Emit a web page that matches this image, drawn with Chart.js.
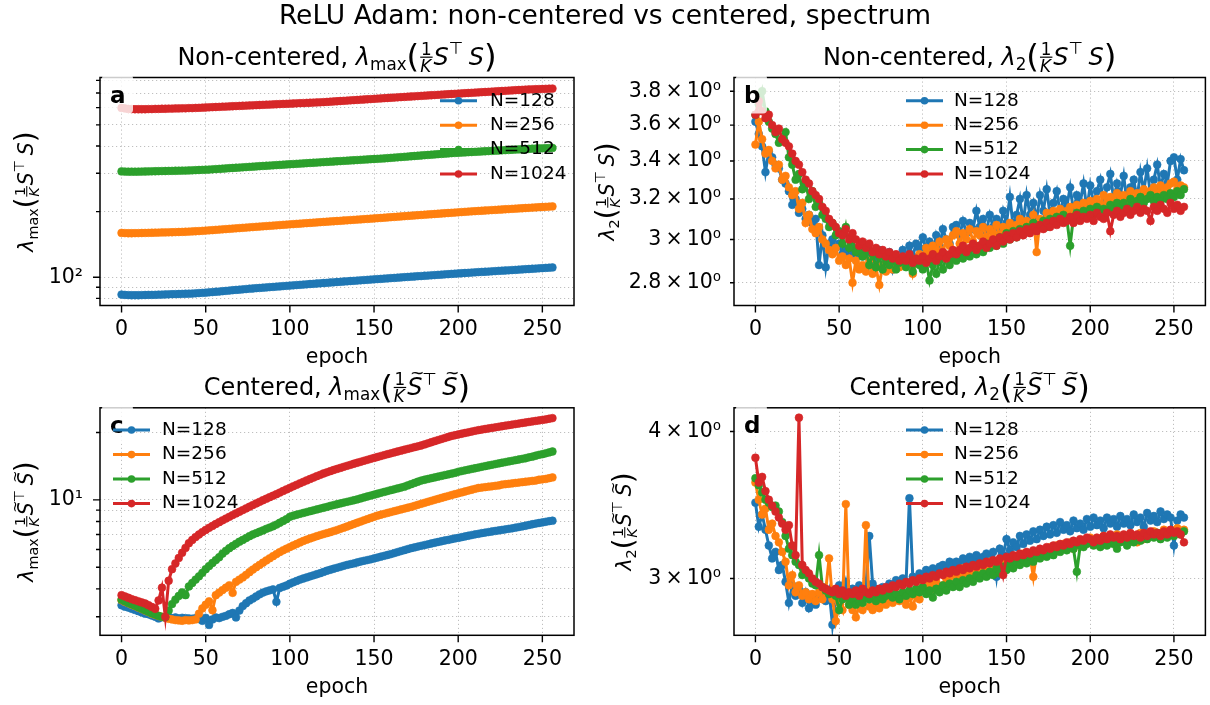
<!DOCTYPE html>
<html>
<head>
<meta charset="utf-8">
<script src="https://cdn.jsdelivr.net/npm/chart.js@4.4.0/dist/chart.umd.min.js"></script>
<style>
  html, body { margin: 0; padding: 0; background: #fff; }
  #wrap { position: relative; width: 1210px; height: 705px; overflow: hidden; }
  #wrap canvas { position: absolute; left: 0; top: 0; }
</style>
</head>
<body>
<div id="wrap">
  <canvas id="cA" width="1210" height="705"></canvas>
  <canvas id="cB" width="1210" height="705"></canvas>
  <canvas id="cC" width="1210" height="705"></canvas>
  <canvas id="cD" width="1210" height="705"></canvas>
</div>
<script>
// ---- data (every 2 epochs) ----
const epochs = [0,2,4,6,8,10,12,14,16,18,20,22,24,26,28,30,32,34,36,38,40,42,44,46,48,50,52,54,56,58,
  60,62,64,66,68,70,72,74,76,78,80,82,84,86,88,90,92,94,96,98,100,102,104,106,108,110,112,114,116,118,
  120,122,124,126,128,130,132,134,136,138,140,142,144,146,148,150,152,154,156,158,160,162,164,166,168,170,
  172,174,176,178,180,182,184,186,188,190,192,194,196,198,200,202,204,206,208,210,212,214,216,218,220,222,
  224,226,228,230,232,234,236,238,240,242,244,246,248,250,252,254,256];
const xTicks = [0, 50, 100, 150, 200, 250];
const seriesNames = ['N=128', 'N=256', 'N=512', 'N=1024'];
const colors = ['#1f77b4', '#ff7f0e', '#2ca02c', '#d62728'];

// panel a: non-centered lambda_max
const aN128 = [83.3,83.0,82.8,82.7,82.7,82.7,82.8,82.9,83.0,83.0,
  83.1,83.2,83.3,83.4,83.5,83.6,83.7,83.8,83.9,84.0,
  84.1,84.2,84.4,84.6,84.8,85.0,85.3,85.5,85.8,86.0,
  86.3,86.6,86.9,87.2,87.5,87.7,88.0,88.3,88.6,88.8,
  89.1,89.3,89.6,89.8,90.1,90.3,90.6,90.8,91.1,91.3,
  91.6,91.8,92.1,92.3,92.6,92.8,93.1,93.3,93.6,93.8,
  94.1,94.3,94.6,94.8,95.1,95.3,95.6,95.8,96.1,96.3,
  96.6,96.8,97.1,97.3,97.6,97.8,98.1,98.3,98.6,98.8,
  99.1,99.3,99.6,99.8,100.1,100.3,100.6,100.8,101.1,101.3,
  101.6,101.8,102.1,102.3,102.6,102.8,103.1,103.3,103.6,103.8,
  104.1,104.3,104.6,104.8,105.1,105.3,105.6,105.8,106.0,106.2,
  106.5,106.7,107.0,107.2,107.4,107.6,107.9,108.1,108.4,108.6,
  108.9,109.1,109.4,109.6,109.9,110.1,110.4,110.6,110.9];
const aN256 = [159.8,159.4,159.2,159.2,159.3,159.4,159.6,159.7,159.9,160.0,
  160.2,160.3,160.5,160.6,160.8,160.9,161.1,161.3,161.5,161.7,
  162.0,162.3,162.6,162.9,163.3,163.7,164.1,164.5,165.0,165.4,
  165.9,166.3,166.8,167.2,167.7,168.1,168.6,169.0,169.5,169.9,
  170.4,170.8,171.3,171.7,172.2,172.6,173.1,173.5,174.0,174.4,
  174.9,175.3,175.8,176.2,176.7,177.1,177.6,178.0,178.5,178.9,
  179.4,179.8,180.3,180.7,181.2,181.6,182.1,182.5,183.0,183.4,
  183.9,184.3,184.8,185.2,185.7,186.1,186.6,187.1,187.6,188.1,
  188.6,189.1,189.6,190.1,190.6,191.1,191.6,192.1,192.6,193.1,
  193.6,194.1,194.6,195.1,195.6,196.1,196.6,197.1,197.6,198.1,
  198.6,199.1,199.6,200.1,200.6,201.0,201.5,201.9,202.4,202.8,
  203.3,203.7,204.2,204.6,205.1,205.5,206.0,206.4,206.9,207.3,
  207.8,208.2,208.7,209.1,209.6,210.0,210.5,210.9,211.4];
const aN512 = [306,305.5,305,305,305,305.2,305.5,305.7,306,306.2,
  306.5,306.7,307,307.2,307.5,307.7,308,308.2,308.5,308.7,
  309,309.5,310,310.5,311,311.5,312,312.7,313.5,314.2,
  315,315.7,316.5,317.2,318,318.7,319.5,320.2,321,321.7,
  322.5,323.2,324,324.7,325.5,326.2,327,327.7,328.5,329.2,
  330,330.7,331.5,332.2,333,333.7,334.5,335.2,336,336.7,
  337.5,338.2,339,339.7,340.5,341.2,342,342.7,343.5,344.2,
  345,345.7,346.5,347.2,348,348.7,349.5,350.2,351,352,
  353,354,355,356,357,358,359,360,361,362,
  363,364,365,366,367,368,369,370,371,371.7,
  372.5,373.2,374,374.7,375.5,376.2,377,377.7,378.5,379.2,
  380,380.7,381.5,382.2,383,383.7,384.5,385.2,386,386.7,
  387.5,388.2,389,389.5,390,390.5,391,391.5,392];
const aN1024 = [598,595,592,591,590,590,590,590,591,591,
  592,592,593,593,594,594,595,595,596,596,
  597,597,598,599,600,601,602,603,604,605,
  606,607,608,609,610,611,612,613,614,615,
  616,617,618,619,620,621,622,623,624,625,
  626,627,628,629,630,631,632,633,634,635,
  636,637.5,639,640.5,642,643.5,645,646.5,648,649.5,
  651,652.5,654,655.5,657,658.5,660,661.5,663,664.5,
  666,667.5,669,670.5,672,673.5,675,676.5,678,679.5,
  681,682.5,684,685.5,687,688.5,690,691.5,693,694.5,
  696,697.5,699,700.5,702,703.5,705,706.5,708,709.5,
  711,712.5,714,715.5,717,718.5,720,721.5,723,724.5,
  726,727,728,729,730,731,732,733,734];
const aYTicks = [80, 90, 100, 200, 300, 400, 500, 600, 700, 800];
const aYTickLabels = ['', '', '10\u00b2', '', '', '', '', '', '', ''];

// panel b: non-centered lambda_2
const bN128 = [3.62,3.55,3.48,3.34,3.45,3.42,3.38,3.36,3.30,3.28,
  3.24,3.17,3.20,3.13,3.15,3.10,3.12,3.08,3.10,2.88,
  3.02,2.87,2.98,3.00,2.96,2.98,2.93,2.95,2.92,2.96,
  2.93,2.95,2.92,2.96,2.94,2.93,2.90,2.95,2.93,2.91,
  2.94,2.86,2.92,2.88,2.95,2.90,2.97,2.92,2.98,2.96,
  3.01,2.95,2.99,2.93,3.02,2.97,3.05,3.00,2.98,3.06,
  3.07,3.02,3.09,3.03,3.08,3.05,3.14,3.06,3.10,3.04,
  3.12,3.06,3.10,3.05,3.14,3.08,3.21,3.06,3.12,3.20,
  3.08,3.22,3.12,3.18,3.10,3.22,3.14,3.25,3.12,3.18,
  3.24,3.13,3.20,3.16,3.26,3.14,3.22,3.18,3.28,3.15,
  3.27,3.18,3.24,3.30,3.17,3.26,3.33,3.20,3.28,3.22,
  3.32,3.18,3.26,3.30,3.20,3.34,3.24,3.36,3.22,3.30,
  3.38,3.26,3.33,3.28,3.40,3.42,3.30,3.41,3.35];
const bN256 = [3.49,3.62,3.52,3.44,3.46,3.40,3.36,3.38,3.30,3.32,
  3.26,3.22,3.24,3.15,3.18,3.08,3.12,3.05,3.03,3.06,
  3.00,2.98,2.95,2.93,2.96,2.90,2.92,2.88,2.91,2.80,
  2.90,2.86,2.88,2.85,2.90,2.84,2.87,2.79,2.88,2.85,
  2.89,2.86,2.90,2.87,2.91,2.88,2.92,2.84,2.90,2.93,
  2.92,2.96,2.93,2.97,2.95,2.99,2.94,3.00,2.97,3.02,
  3.04,2.98,3.03,3.00,3.05,2.99,3.04,3.02,3.06,3.01,
  3.05,3.03,3.07,3.02,3.06,3.04,3.08,3.05,3.07,3.10,
  3.06,3.09,3.07,3.12,2.94,3.10,3.08,3.13,3.10,3.14,
  3.11,3.15,3.12,3.14,3.16,3.12,3.17,3.14,3.18,3.15,
  3.19,3.16,3.20,3.17,3.22,3.18,3.21,3.19,3.23,3.20,
  3.22,3.19,3.24,3.20,3.23,3.21,3.25,3.22,3.24,3.26,
  3.23,3.27,3.24,3.26,3.28,3.29,3.25,3.27,3.26];
const bN512 = [3.66,3.72,3.80,3.68,3.62,3.58,3.55,3.50,3.52,3.56,
  3.42,3.38,3.30,3.33,3.25,3.28,3.20,3.24,3.16,3.18,
  3.12,3.10,3.06,3.08,3.02,3.04,2.98,3.06,2.96,3.00,
  2.94,2.97,2.92,2.95,2.88,2.93,2.87,2.92,2.86,2.90,
  2.88,2.91,2.86,2.89,2.90,2.87,2.92,2.85,2.90,2.88,
  2.86,2.90,2.81,2.88,2.84,2.90,2.86,2.92,2.88,2.91,
  2.90,2.93,2.91,2.94,2.92,2.96,2.93,2.97,2.94,2.98,
  2.96,2.99,2.97,3.01,2.98,3.03,3.00,3.04,3.01,3.05,
  3.03,3.06,3.04,3.08,3.05,3.07,3.09,3.06,3.10,3.08,
  3.11,3.09,3.12,3.10,2.97,3.11,3.13,3.10,3.14,3.12,
  3.15,3.12,3.16,3.13,3.15,3.14,3.17,3.15,3.18,3.16,
  3.18,3.15,3.20,3.17,3.19,3.21,3.18,3.20,3.22,3.19,
  3.21,3.19,3.22,3.20,3.23,3.21,3.24,3.22,3.25];
const bN1024 = [3.66,3.74,3.68,3.64,3.66,3.60,3.56,3.58,3.52,3.50,
  3.48,3.44,3.40,3.38,3.34,3.30,3.28,3.24,3.22,3.20,
  3.16,3.14,3.10,3.08,3.06,3.03,3.02,3.05,3.00,3.03,
  3.00,2.97,2.99,2.96,2.98,2.94,2.96,2.93,2.95,2.92,
  2.94,2.91,2.93,2.90,2.92,2.90,2.93,2.89,2.91,2.90,
  2.92,2.89,2.91,2.93,2.90,2.92,2.94,2.91,2.93,2.95,
  2.93,2.95,2.97,2.94,2.96,2.98,2.95,2.97,2.99,2.96,
  2.98,3.00,2.97,3.01,2.99,3.02,3.00,3.03,3.01,3.04,
  3.02,3.05,3.03,3.06,3.04,3.07,3.05,3.08,3.06,3.09,
  3.07,3.10,3.08,3.09,3.11,3.08,3.12,3.09,3.11,3.10,
  3.12,3.09,3.13,3.11,3.10,3.13,3.04,3.12,3.14,3.11,
  3.13,3.15,3.12,3.14,3.16,3.13,3.15,3.14,3.09,3.16,
  3.14,3.17,3.15,3.13,3.18,3.15,3.17,3.14,3.16];
const bYTicks = [2.8, 3.0, 3.2, 3.4, 3.6, 3.8];
const bYTickLabels = ['2.8\u2009\u00d7\u200910\u2070', '3\u2009\u00d7\u200910\u2070', '3.2\u2009\u00d7\u200910\u2070',
  '3.4\u2009\u00d7\u200910\u2070', '3.6\u2009\u00d7\u200910\u2070', '3.8\u2009\u00d7\u200910\u2070'];

// panel c: centered lambda_max
const cN128 = [3.38,3.33,3.30,3.26,3.22,3.18,3.14,3.10,3.08,3.04,
  3.00,2.95,2.99,2.97,3.00,2.96,2.98,2.95,2.97,2.96,
  2.95,2.94,2.96,2.93,2.88,2.97,2.76,2.92,2.98,2.96,
  3.00,3.03,3.08,3.12,2.98,3.20,3.35,3.45,3.55,3.62,
  3.70,3.78,3.85,3.90,3.94,3.98,3.50,4.04,4.09,4.14,
  4.22,4.28,4.34,4.40,4.45,4.50,4.55,4.60,4.65,4.70,
  4.76,4.82,4.87,4.92,4.97,5.02,5.07,5.12,5.16,5.20,
  5.25,5.30,5.34,5.38,5.42,5.47,5.52,5.57,5.62,5.67,
  5.72,5.78,5.84,5.90,5.96,6.02,6.08,6.13,6.18,6.23,
  6.28,6.33,6.38,6.43,6.48,6.53,6.58,6.62,6.67,6.72,
  6.76,6.81,6.86,6.91,6.96,7.01,7.05,7.10,7.14,7.18,
  7.22,7.26,7.30,7.34,7.38,7.42,7.46,7.51,7.56,7.61,
  7.66,7.72,7.78,7.83,7.88,7.93,7.98,8.03,8.07];
const cN256 = [3.56,3.50,3.45,3.40,3.35,3.30,3.25,3.20,3.15,3.10,
  3.06,3.03,3.00,2.97,2.94,2.92,2.90,2.89,2.88,2.90,
  2.89,2.90,2.92,3.10,3.27,3.40,3.52,3.21,3.75,3.85,
  3.95,4.05,4.15,3.84,4.30,4.40,4.50,4.62,4.75,4.88,
  5.00,5.12,5.24,5.36,5.48,5.60,5.72,5.84,5.95,6.05,
  6.15,6.25,6.35,6.45,6.55,6.64,6.72,6.80,6.88,6.96,
  7.03,7.10,7.17,7.25,7.33,7.42,7.51,7.60,7.70,7.80,
  7.90,8.00,8.10,8.20,8.30,8.40,8.50,8.58,8.66,8.74,
  8.82,8.90,8.98,9.06,9.14,9.22,9.30,9.40,9.50,9.60,
  9.70,9.80,9.90,10.0,10.1,10.2,10.3,10.4,10.5,10.6,
  10.7,10.8,10.9,11.0,11.1,11.2,11.3,11.35,11.4,11.45,
  11.5,11.55,11.6,11.7,11.75,11.8,11.85,11.9,11.95,12.0,
  12.05,12.1,12.15,12.2,12.3,12.35,12.4,12.5,12.6];
const cN512 = [3.58,3.52,3.46,3.41,3.36,3.31,3.26,3.21,3.16,3.11,
  3.07,3.03,3.00,2.99,3.20,3.42,3.58,3.72,3.86,3.75,
  4.10,4.25,4.40,4.55,4.72,4.90,5.06,5.22,5.38,5.54,
  5.75,5.92,6.08,6.22,6.36,6.50,6.62,6.75,6.88,7.00,
  7.10,7.20,7.30,7.42,7.52,7.62,7.75,7.90,8.05,8.20,
  8.40,8.50,8.58,8.66,8.74,8.82,8.90,8.98,9.06,9.14,
  9.22,9.30,9.40,9.48,9.56,9.64,9.72,9.80,9.88,9.96,
  10.05,10.15,10.25,10.35,10.45,10.55,10.65,10.75,10.85,10.95,
  11.05,11.15,11.25,11.35,11.45,11.6,11.75,11.9,12.05,12.2,
  12.3,12.4,12.5,12.6,12.7,12.8,12.9,13.0,13.1,13.2,
  13.35,13.45,13.55,13.65,13.75,13.85,13.95,14.05,14.15,14.25,
  14.35,14.45,14.55,14.65,14.75,14.85,14.95,15.05,15.15,15.25,
  15.35,15.5,15.6,15.75,15.9,16.0,16.15,16.3,16.45];
const cN1024 = [3.75,3.70,3.65,3.60,3.56,3.52,3.48,3.44,3.38,3.32,
  3.26,3.55,4.05,3.00,4.35,4.90,5.20,5.50,5.80,6.10,
  6.40,6.62,6.82,7.00,7.18,7.34,7.50,7.65,7.80,7.95,
  8.10,8.25,8.40,8.55,8.70,8.85,9.00,9.16,9.32,9.48,
  9.64,9.80,9.96,10.12,10.28,10.44,10.60,10.78,10.96,11.14,
  11.32,11.50,11.68,11.86,12.04,12.22,12.40,12.58,12.76,12.94,
  13.12,13.28,13.44,13.60,13.75,13.90,14.05,14.20,14.35,14.50,
  14.65,14.80,14.95,15.10,15.25,15.40,15.55,15.70,15.85,16.00,
  16.15,16.30,16.45,16.60,16.75,16.90,17.05,17.20,17.35,17.50,
  17.70,17.90,18.10,18.30,18.50,18.70,18.90,19.10,19.30,19.45,
  19.60,19.75,19.90,20.05,20.20,20.35,20.50,20.62,20.74,20.86,
  20.98,21.10,21.22,21.34,21.46,21.58,21.70,21.82,21.94,22.06,
  22.18,22.30,22.42,22.54,22.66,22.78,22.90,23.05,23.20];
const cYTicks = [3, 4, 5, 6, 7, 8, 9, 10, 20];
const cYTickLabels = ['', '', '', '', '', '', '', '10\u00b9', ''];

// panel d: centered lambda_2
const dN128 = [3.48,3.32,3.40,3.30,3.20,3.12,3.16,3.05,3.08,2.98,
  2.86,2.96,2.90,2.94,2.86,2.92,2.83,2.88,2.85,2.89,
  2.91,2.87,2.93,2.74,2.90,2.96,2.90,2.98,2.88,2.94,
  2.92,2.96,2.90,2.95,3.26,2.97,2.94,2.92,2.95,2.93,
  2.97,2.95,2.99,2.97,3.00,2.98,3.51,3.01,3.00,3.03,
  3.02,3.05,3.03,3.06,3.04,3.07,3.08,3.06,3.10,3.08,
  3.10,3.07,3.12,3.09,3.13,3.11,3.14,3.10,3.13,3.15,
  3.12,3.16,3.01,3.18,3.14,3.24,3.17,3.22,3.19,3.26,
  3.21,3.27,3.23,3.29,3.24,3.30,3.26,3.32,3.27,3.33,
  3.28,3.35,3.30,3.33,3.29,3.36,3.31,3.34,3.30,3.37,
  3.32,3.38,3.33,3.36,3.31,3.38,3.34,3.37,3.32,3.39,
  3.34,3.37,3.33,3.40,3.35,3.38,3.32,3.41,3.36,3.39,
  3.35,3.42,3.37,3.40,3.38,3.20,3.36,3.40,3.38];
const dN256 = [3.62,3.50,3.40,3.44,3.30,3.34,3.26,3.22,3.16,3.10,
  2.96,3.02,2.92,2.96,2.90,2.92,2.88,2.91,2.87,2.92,
  2.88,2.93,3.12,2.88,2.76,2.86,2.82,3.47,2.85,2.82,
  2.78,2.85,2.82,3.33,2.84,2.82,2.86,2.83,2.87,2.85,
  2.88,2.86,2.90,2.87,2.91,2.85,2.89,2.84,2.90,2.88,
  2.95,2.92,2.97,2.94,2.98,2.93,2.96,3.00,2.97,3.02,
  3.04,3.01,3.06,3.03,3.05,3.02,3.07,3.04,3.08,3.05,
  3.10,3.07,3.09,3.06,3.11,3.08,3.12,3.09,3.13,3.11,
  3.15,3.12,3.14,3.01,3.16,3.13,3.17,3.15,3.19,3.16,
  3.20,3.17,3.21,3.19,3.22,3.18,3.21,3.23,3.20,3.24,
  3.25,3.21,3.24,3.22,3.26,3.23,3.25,3.22,3.27,3.24,
  3.26,3.23,3.27,3.25,3.22,3.28,3.24,3.27,3.26,3.29,
  3.28,3.25,3.30,3.26,3.29,3.27,3.31,3.28,3.30];
const dN512 = [3.65,3.60,3.55,3.50,3.48,3.45,3.46,3.42,3.35,3.26,
  3.18,3.14,3.10,3.08,3.02,3.04,3.00,2.97,2.96,3.14,
  2.95,2.93,2.91,2.92,2.90,2.82,2.88,2.90,2.85,2.88,
  2.85,2.87,2.86,2.89,2.88,2.90,2.87,2.91,2.88,2.90,
  2.92,2.89,2.91,2.88,2.92,2.90,2.93,2.91,2.94,2.92,
  2.95,2.91,2.93,2.89,2.94,2.92,2.96,2.93,2.97,2.95,
  2.98,2.95,2.99,2.97,3.00,2.98,3.02,3.00,3.03,3.01,
  3.04,3.02,3.06,3.03,3.07,3.05,3.09,3.06,3.10,3.08,
  3.11,3.09,3.13,3.10,3.14,3.12,3.15,3.13,3.17,3.14,
  3.18,3.16,3.19,3.17,3.20,3.18,3.04,3.20,3.19,3.21,
  3.22,3.20,3.23,3.19,3.22,3.20,3.24,3.21,3.18,3.22,
  3.23,3.20,3.24,3.22,3.25,3.23,3.26,3.24,3.27,3.25,
  3.28,3.24,3.27,3.25,3.29,3.26,3.28,3.27,3.29];
const dN1024 = [3.80,3.62,3.66,3.56,3.50,3.46,3.42,3.38,3.34,3.30,
  3.33,3.20,3.14,4.11,3.08,3.05,3.03,3.00,2.98,2.97,
  2.95,2.94,2.93,2.92,2.94,2.91,2.93,2.90,2.92,2.91,
  2.93,2.90,2.94,2.92,2.91,2.93,2.92,2.94,2.93,2.95,
  2.94,2.96,2.95,2.97,2.96,2.98,2.97,2.99,2.98,3.00,
  2.99,3.01,3.00,3.02,3.01,3.03,3.02,3.04,3.03,3.05,
  3.04,3.06,3.05,3.07,3.06,3.08,3.07,3.09,3.08,3.10,
  3.09,3.11,3.10,3.12,3.02,3.13,3.12,3.14,3.13,3.15,
  3.14,3.16,3.15,3.17,3.16,3.18,3.17,3.19,3.18,3.20,
  3.19,3.21,3.20,3.22,3.21,3.23,3.22,3.24,3.23,3.25,
  3.24,3.22,3.25,3.23,3.26,3.24,3.27,3.25,3.26,3.24,
  3.27,3.25,3.28,3.26,3.27,3.25,3.28,3.26,3.29,3.27,
  3.28,3.26,3.29,3.27,3.30,3.28,3.29,3.27,3.22];
const dYTicks = [3, 4];
const dYTickLabels = ['3\u2009\u00d7\u200910\u2070', '4\u2009\u00d7\u200910\u2070'];

// ---- text pieces (mathtext-like) ----
const FF = '"DejaVu Sans"';
const lamMax = [{t:'\u03bb', s:'it'}, {t:'max', s:'sub'}];
const lam2 = [{t:'\u03bb', s:'it'}, {t:'2', s:'sub'}];
const gram = [{t:'(', s:'big'}, {s:'frac', n:'1', d:'K'}, {t:'S', s:'it'}, {t:'\u22a4', s:'sup', gap:0.22}, {t:'S', s:'it'}, {t:')', s:'big'}];
const gramT = [{t:'(', s:'big'}, {s:'frac', n:'1', d:'K'}, {t:'S', s:'tilde'}, {t:'\u22a4', s:'sup', gap:0.22}, {t:'S', s:'tilde'}, {t:')', s:'big'}];

function fontFor(style, size) {
  return (style === 'it' ? 'italic ' : '') + size + 'px ' + FF;
}

function mathLayout(ctx, parts, size, ox, oy, draw) {
  let x = ox;
  for (const p of parts) {
    if (p.s === 'frac') {
      const fs = size * 0.7;
      ctx.font = fontFor('rm', fs); const wn = ctx.measureText(p.n).width;
      ctx.font = fontFor('it', fs); const wd = ctx.measureText(p.d).width;
      const w = Math.max(wn, wd) + size * 0.14;
      if (draw) {
        const ax = oy - size * 0.3;
        ctx.font = fontFor('rm', fs); ctx.fillText(p.n, x + (w - wn) / 2, ax - size * 0.1);
        ctx.font = fontFor('it', fs); ctx.fillText(p.d, x + (w - wd) / 2 - size * 0.03, ax + size * 0.6);
        ctx.fillRect(x + size * 0.04, ax - size * 0.03, w - size * 0.08, Math.max(1, size * 0.05));
      }
      x += w;
      continue;
    }
    let fs = size, dy = 0;
    const st = (p.s === 'it' || p.s === 'tilde') ? 'it' : 'rm';
    if (p.s === 'sub') { fs = size * 0.7; dy = size * 0.22; }
    if (p.s === 'sup') { fs = size * 0.7; dy = -size * 0.42; }
    if (p.s === 'big') { fs = size * 1.35; dy = size * 0.12; }
    ctx.font = fontFor(st, fs);
    const w = ctx.measureText(p.t).width;
    if (draw) {
      ctx.fillText(p.t, x, oy + dy);
      if (p.s === 'tilde') {
        ctx.font = fontFor('rm', size * 0.72);
        const tw = ctx.measureText('~').width;
        ctx.fillText('~', x + (w - tw) / 2 + size * 0.1, oy - size * 0.64);
      }
    }
    x += w + (p.gap || 0) * size;
  }
  return x - ox;
}

function drawMath(ctx, parts, x, y, size, align) {
  ctx.textAlign = 'left';
  ctx.textBaseline = 'alphabetic';
  const w = mathLayout(ctx, parts, size, 0, 0, false);
  const sx = align === 'center' ? x - w / 2 : (align === 'right' ? x - w : x);
  mathLayout(ctx, parts, size, sx, y, true);
}

// ---- panels ----
const panels = {
  cA: { letter: 'a', box: {left: 100, right: 574, top: 77.5, bottom: 305.5}, yW: 100,
        yMin: 74.2, yMax: 825, yTicks: aYTicks, yTickLabels: aYTickLabels, yMajor: [100], yPad: 17,
        series: [aN128, aN256, aN512, aN1024], legX: [440, 477, 490], legY: [100.7, 125.2, 149.6, 174],
        title: [{t:'Non-centered, ', s:'rm'}].concat(lamMax, gram), ylabel: lamMax.concat(gram), ylabelX: 33 },
  cB: { letter: 'b', box: {left: 734, right: 1207, top: 77.5, bottom: 305.5}, yW: 150,
        yMin: 2.747, yMax: 3.884, yTicks: bYTicks, yTickLabels: bYTickLabels, yMajor: [], yPad: 13,
        series: [bN128, bN256, bN512, bN1024], legX: [906, 943, 954], legY: [100.7, 125.2, 149.6, 174],
        title: [{t:'Non-centered, ', s:'rm'}].concat(lam2, gram), ylabel: lam2.concat(gram), ylabelX: 614 },
  cC: { letter: 'c', box: {left: 100, right: 574, top: 407.8, bottom: 635.3}, yW: 100,
        yMin: 2.48, yMax: 25.8, yTicks: cYTicks, yTickLabels: cYTickLabels, yMajor: [10], yPad: 17,
        series: [cN128, cN256, cN512, cN1024], legX: [113, 150, 162], legY: [430, 454.6, 479, 503.6],
        title: [{t:'Centered, ', s:'rm'}].concat(lamMax, gramT), ylabel: lamMax.concat(gramT), ylabelX: 33 },
  cD: { letter: 'd', box: {left: 734, right: 1207, top: 407.8, bottom: 635.3}, yW: 150,
        yMin: 2.684, yMax: 4.19, yTicks: dYTicks, yTickLabels: dYTickLabels, yMajor: [], yPad: 13,
        series: [dN128, dN256, dN512, dN1024], legX: [906, 943, 954], legY: [430, 454.6, 479, 503.6],
        title: [{t:'Centered, ', s:'rm'}].concat(lam2, gramT), ylabel: lam2.concat(gramT), ylabelX: 631 }
};

const X_H = 70;
const TICK_FONT = 20.5;
const gridColor = 'rgba(170,170,170,0.75)';

const deco = {
  id: 'deco',
  afterDatasetsDraw(chart) {
    const p = panels[chart.canvas.id];
    const ctx = chart.ctx, a = chart.chartArea;
    const xs = chart.scales.x, ys = chart.scales.y;
    ctx.save();
    // frame
    ctx.strokeStyle = '#000';
    ctx.lineWidth = 1.5;
    ctx.strokeRect(a.left, a.top, a.right - a.left, a.bottom - a.top);
    // tick marks
    ctx.lineWidth = 1.4;
    ctx.beginPath();
    xTicks.forEach(v => {
      const px = xs.getPixelForValue(v);
      ctx.moveTo(px, a.bottom); ctx.lineTo(px, a.bottom + 7);
    });
    p.yTicks.forEach(v => {
      const py = ys.getPixelForValue(v);
      const len = p.yMajor.includes(v) ? 7 : 4;
      ctx.moveTo(a.left, py); ctx.lineTo(a.left - len, py);
    });
    ctx.stroke();
    // panel letter with translucent box
    ctx.fillStyle = 'rgba(255,255,255,0.8)';
    ctx.beginPath();
    ctx.roundRect(a.left + 2, a.top - 3, 31, 39, 4);
    ctx.fill();
    ctx.fillStyle = '#000';
    ctx.font = 'bold 23px ' + FF;
    ctx.textAlign = 'left';
    ctx.textBaseline = 'alphabetic';
    ctx.fillText(p.letter, a.left + 10, a.top + 25);
    // legend (no frame)
    seriesNames.forEach((name, i) => {
      const y = p.legY[i];
      ctx.strokeStyle = colors[i];
      ctx.lineWidth = 3;
      ctx.beginPath();
      ctx.moveTo(p.legX[0], y); ctx.lineTo(p.legX[1], y);
      ctx.stroke();
      ctx.fillStyle = colors[i];
      ctx.beginPath();
      ctx.arc((p.legX[0] + p.legX[1]) / 2, y, 3.8, 0, Math.PI * 2);
      ctx.fill();
      ctx.fillStyle = '#000';
      ctx.font = '18.5px ' + FF;
      ctx.textBaseline = 'middle';
      ctx.fillText(name, p.legX[2], y);
    });
    ctx.restore();
  },
  afterDraw(chart) {
    const p = panels[chart.canvas.id];
    const ctx = chart.ctx, a = chart.chartArea;
    ctx.save();
    ctx.fillStyle = '#000';
    // title
    drawMath(ctx, p.title, (a.left + a.right) / 2, a.top - 13, 24, 'center');
    // y label, rotated
    ctx.save();
    ctx.translate(p.ylabelX, (a.top + a.bottom) / 2);
    ctx.rotate(-Math.PI / 2);
    drawMath(ctx, p.ylabel, 0, 0, 20.5, 'center');
    ctx.restore();
    // x label
    ctx.font = '20.5px ' + FF;
    ctx.textAlign = 'center';
    ctx.textBaseline = 'middle';
    ctx.fillText('epoch', (a.left + a.right) / 2, a.bottom + 52);
    // figure title
    if (chart.canvas.id === 'cA') {
      ctx.font = '26.5px ' + FF;
      ctx.textBaseline = 'alphabetic';
      ctx.fillText('ReLU Adam: non-centered vs centered, spectrum', 605, 24);
    }
    ctx.restore();
  }
};

Chart.defaults.font.family = 'DejaVu Sans';
Chart.defaults.color = '#000';

Object.keys(panels).forEach(id => {
  const p = panels[id];
  const datasets = p.series.map((vals, i) => ({
    label: seriesNames[i],
    data: epochs.map((e, k) => ({x: e, y: vals[k]})),
    borderColor: colors[i],
    backgroundColor: colors[i],
    borderWidth: 3,
    pointRadius: 3.9,
    pointBorderWidth: 0.6,
    pointBackgroundColor: colors[i],
    pointBorderColor: colors[i],
    tension: 0,
    order: 4 - i
  }));
  new Chart(document.getElementById(id), {
    type: 'line',
    data: { datasets },
    plugins: [deco],
    options: {
      responsive: false,
      animation: false,
      devicePixelRatio: 1,
      layout: { padding: { left: p.box.left - p.yW, right: 1210 - p.box.right, top: p.box.top, bottom: 705 - p.box.bottom - X_H } },
      plugins: { legend: { display: false }, tooltip: { enabled: false } },
      scales: {
        x: {
          type: 'linear', min: -12.8, max: 268.8,
          afterBuildTicks: s => { s.ticks = xTicks.map(v => ({value: v})); },
          afterFit: s => { s.height = X_H; },
          ticks: { autoSkip: false, maxRotation: 0, padding: 12, color: '#000',
                   font: { size: TICK_FONT }, callback: v => String(v) },
          grid: { drawTicks: false, color: gridColor, lineWidth: 1 },
          border: { display: false, dash: [1.2, 2.8] }
        },
        y: {
          type: 'logarithmic', min: p.yMin, max: p.yMax,
          afterBuildTicks: s => { s.ticks = p.yTicks.map(v => ({value: v})); },
          afterFit: s => { s.width = p.yW; },
          ticks: { autoSkip: false, padding: p.yPad, color: '#000',
                   font: { size: TICK_FONT }, callback: (v, i) => p.yTickLabels[i] },
          grid: { drawTicks: false, color: gridColor, lineWidth: 1 },
          border: { display: false, dash: [1.2, 2.8] }
        }
      }
    }
  });
});
</script>
</body>
</html>
